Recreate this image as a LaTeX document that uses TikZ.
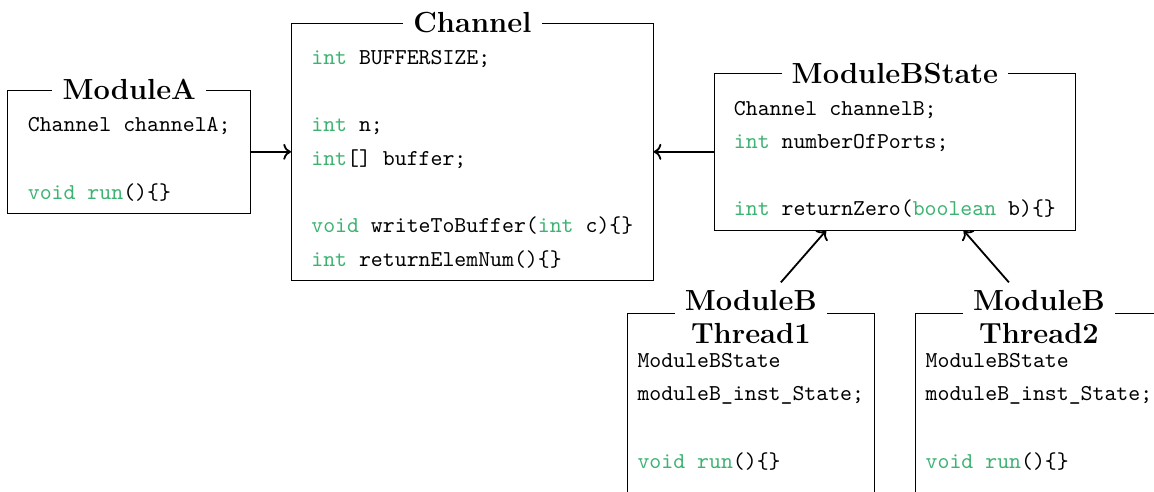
\documentclass[tikz,border=0pt]{standalone}
\usetikzlibrary{arrows.meta}
\definecolor{kwgruen}{RGB}{60,179,113}
\newcommand{\kw}[1]{\textcolor{kwgruen}{#1}}
\newcommand{\topgap}[1]{\rule{0pt}{#1}}
\newcommand{\botgap}[1]{\rule[-#1]{0pt}{#1}}

\begin{document}
\begin{tikzpicture}[
	klasse/.style={draw, align=left, inner xsep=8.8pt, inner ysep=0pt,
		font=\fontsize{10}{14.8}\selectfont\ttfamily},
	titel/.style={fill=white, align=center, inner xsep=4.5pt,
		font=\fontsize{12.8}{14.3}\selectfont\bfseries},
	pfeil/.style={->, thick}]

	\useasboundingbox (0,0) rectangle (17.86,7.60);

	% Klassen
	\node[klasse] (modA) at (2.0,5.25) {\topgap{18.3pt}Channel channelA;\\[14.8pt]
		\kw{void} \kw{run}()\{\}\botgap{6.3pt}};
	\node[klasse] (chan) at (7.31,5.25) {\topgap{18.3pt}\kw{int} BUFFERSIZE;\\[14.8pt]
		\kw{int} n;\\
		\kw{int}[] buffer;\\[14.8pt]
		\kw{void} writeToBuffer(\kw{int} c)\{\}\\
		\kw{int} returnElemNum()\{\}\botgap{6.3pt}};
	\node[klasse] (bstate) at (13.85,5.25) {\topgap{18.3pt}Channel channelB;\\
		\kw{int} numberOfPorts;\\[14.8pt]
		\kw{int} returnZero(\kw{boolean} b)\{\}\botgap{6.3pt}};

	\node[klasse, inner xsep=4.6pt, anchor=north] (thr1) at (11.62,2.76) {\topgap{23.8pt}ModuleBState\\
		moduleB\_inst\_State;\\[14.8pt]
		\kw{void} \kw{run}()\{\}\botgap{14pt}};
	\node[klasse, inner xsep=4.6pt, anchor=north] (thr2) at (16.08,2.76) {\topgap{23.8pt}ModuleBState\\
		moduleB\_inst\_State;\\[14.8pt]
		\kw{void} \kw{run}()\{\}\botgap{14pt}};

	% Titel
	\node[titel] (modAtitel) at (modA.north) {ModuleA};
	\node[titel] (chantitel) at (chan.north) {Channel};
	\node[titel] (bstatetitel) at (bstate.north) {ModuleBState};
	\node[titel, yshift=-1.8pt] (thr1titel) at (thr1.north) {ModuleB\\Thread1};
	\node[titel, yshift=-1.8pt] (thr2titel) at (thr2.north) {ModuleB\\Thread2};

	% Pfeile
	\draw[pfeil] (modA) -- (chan);
	\draw[pfeil] (bstate) -- (chan);
	\draw[pfeil] (thr1titel) -- (bstate);
	\draw[pfeil] (thr2titel) -- (bstate);
\end{tikzpicture}
\end{document}
